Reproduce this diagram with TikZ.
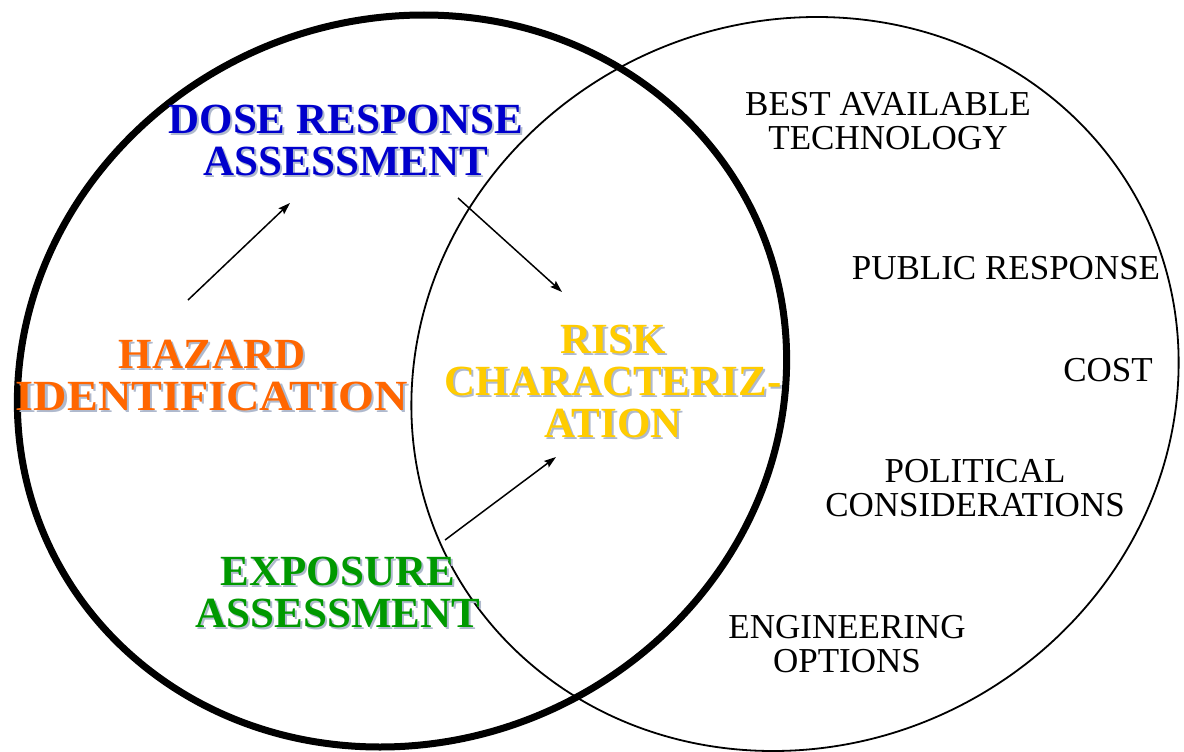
\documentclass[tikz,border=0pt]{standalone}
\usepackage{fontspec}
\setmainfont{Liberation Serif}
\usetikzlibrary{arrows.meta}

\definecolor{doseblue}{RGB}{0,0,204}
\definecolor{hazorange}{RGB}{255,102,0}
\definecolor{riskgold}{RGB}{255,204,0}
\definecolor{expogreen}{RGB}{0,153,0}
\definecolor{shadowc}{RGB}{175,185,205}

% text with a soft drop shadow, one line at a time
\newcommand\shd[1]{\leavevmode\rlap{\kern2pt\raisebox{-2pt}{\color{shadowc}#1}}#1}

\begin{document}
\begin{tikzpicture}[x=1pt, y=-1pt,
        bigtext/.style={inner sep=0pt, align=center, font=\fontsize{43}{42}\selectfont\bfseries},
        smalltext/.style={inner sep=0pt, align=center, font=\fontsize{35}{34.5}\selectfont},
        arr/.style={line width=1.5pt, -{Stealth[length=12pt, width=8pt, inset=2pt]}}]
        \useasboundingbox (0,0) rectangle (1184,752);

        % the two circles
        \begin{scope}[shift={(402,381)}, xslant=0.06]
            \draw[line width=7pt] (0,0) ellipse [x radius=384, y radius=366];
        \end{scope}
        \begin{scope}[shift={(795,384)}, xslant=0.06]
            \draw[line width=1.8pt] (0,0) ellipse [x radius=383, y radius=367];
        \end{scope}

        \node (dose) [bigtext, color=doseblue] at (346,141) {\shd{DOSE RESPONSE}\\\shd{ASSESSMENT}};
        \node (haz) [bigtext, color=hazorange] at (212,377) {\shd{HAZARD}\\\scalebox{1.075}[1]{\shd{IDENTIFICATION}}};
        \node (risk) [bigtext, color=riskgold] at (613,382) {\shd{RISK}\\\shd{CHARACTERIZ-}\\\shd{ATION}};
        \node (expo) [bigtext, color=expogreen] at (338,593) {\shd{EXPOSURE}\\\shd{ASSESSMENT}};

        \node (bat) [smalltext] at (888,121) {BEST AVAILABLE\\TECHNOLOGY};
        \node (pub) [smalltext] at (1006,268) {PUBLIC RESPONSE};
        \node (cost) [smalltext] at (1108,370) {COST};
        \node (pol) [smalltext] at (975,488) {POLITICAL\\CONSIDERATIONS};
        \node (eng) [smalltext] at (847,644) {ENGINEERING\\OPTIONS};

        % arrow ends
        \coordinate (haz-out) at (188,300);
        \coordinate (dose-in) at (290,203);
        \coordinate (dose-out) at (458,198);
        \coordinate (risk-in1) at (562,292);
        \coordinate (expo-out) at (445,540);
        \coordinate (risk-in2) at (556,457);

        \draw[arr] (haz-out) -- (dose-in);
        \draw[arr] (dose-out) -- (risk-in1);
        \draw[arr] (expo-out) -- (risk-in2);
\end{tikzpicture}
\end{document}
